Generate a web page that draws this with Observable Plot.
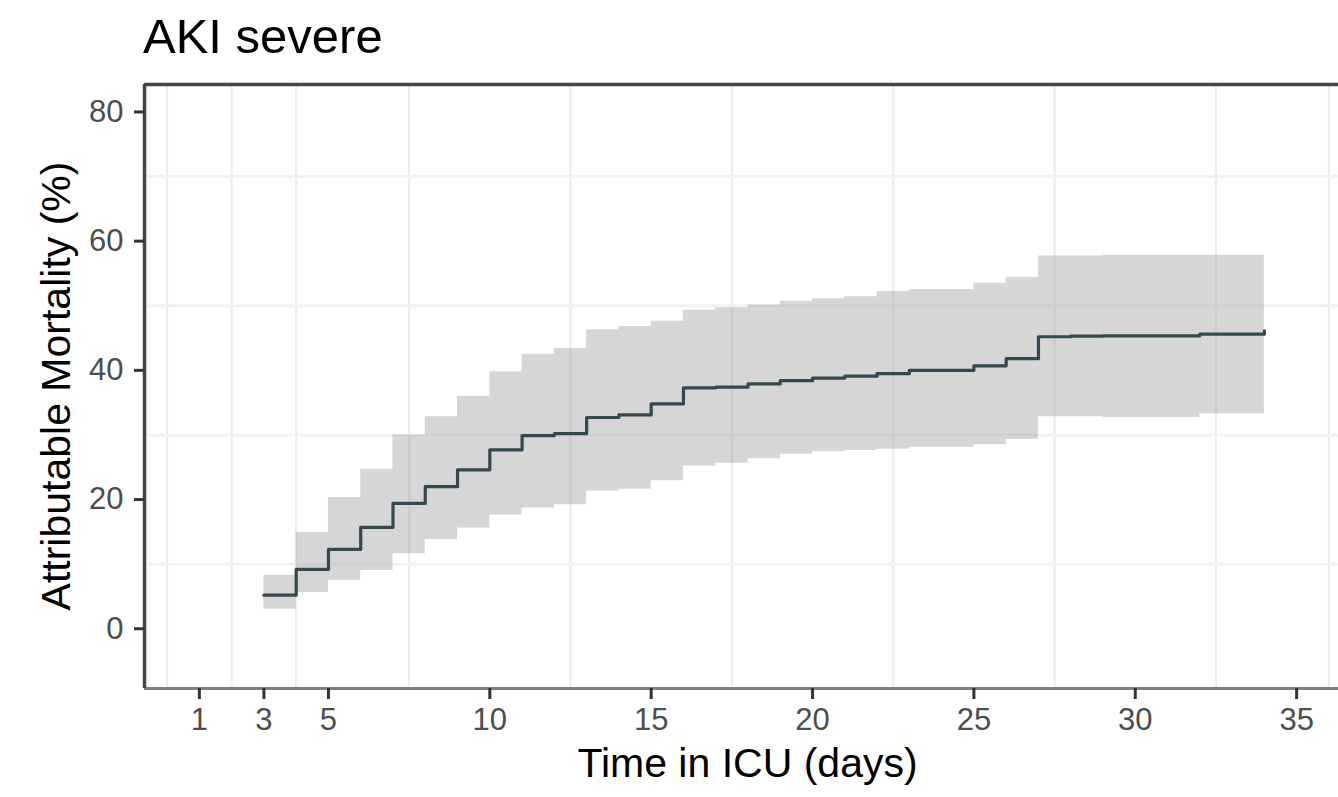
<!DOCTYPE html>
<html>
<head>
<meta charset="utf-8">
<script src="https://cdn.jsdelivr.net/npm/d3@7"></script>
<script src="https://cdn.jsdelivr.net/npm/@observablehq/plot@0.6"></script>
<style>
  html, body { margin: 0; padding: 0; background: #fff; overflow: hidden; }
  #wrap { position: relative; width: 1338px; height: 797px; overflow: hidden; }
</style>
</head>
<body>
<div id="wrap"></div>
<script>
// ---- data ----
const days  = [3, 4, 5, 6, 7, 8, 9, 10, 11, 12, 13, 14, 15, 16, 17, 18, 19, 20, 21, 22, 23, 24, 25, 26, 27, 28, 29, 30, 31, 32, 33, 34];
const est   = [5.2, 9.2, 12.3, 15.7, 19.4, 22.0, 24.6, 27.7, 29.9, 30.2, 32.7, 33.1, 34.8, 37.3, 37.4, 37.9, 38.4, 38.8, 39.1, 39.5, 40.0, 40.0, 40.7, 41.8, 45.2, 45.3, 45.35, 45.35, 45.35, 45.6, 45.6, 46.1];
const lower = [3.0, 5.6, 7.5, 9.0, 11.6, 13.8, 15.6, 17.6, 18.7, 19.2, 21.3, 21.6, 22.9, 25.2, 25.6, 26.3, 27.0, 27.4, 27.6, 27.8, 28.1, 28.1, 28.5, 29.3, 32.8, 32.8, 32.7, 32.7, 32.7, 33.3, 33.3, 33.3];
const upper = [8.3, 14.9, 20.3, 24.7, 30.0, 32.8, 36.0, 39.8, 42.5, 43.4, 46.3, 46.8, 47.6, 49.3, 49.7, 50.1, 50.7, 51.1, 51.4, 52.2, 52.5, 52.5, 53.5, 54.4, 57.7, 57.7, 57.8, 57.8, 57.8, 57.8, 57.8, 57.8];
const xTicks = [1, 3, 5, 10, 15, 20, 25, 30, 35];
const yTicks = [0, 20, 40, 60, 80];
const xGrid = [0, 2, 4, 7.5, 12.5, 17.5, 22.5, 27.5, 32.5, 36];
const yGrid = [10, 30, 50, 70];
const xDomain = [-0.7, 36.7];
const yDomain = [-9.25, 84.25];
const title = "AKI severe";
const xLabel = "Time in ICU (days)";
const yLabel = "Attributable Mortality (%)";

const data = days.map((d, i) => ({day: d, est: est[i], lo: lower[i], hi: upper[i]}));

const W = 1360, H = 797;
const mL = 144, mR = 9, mT = 84, mB = 109;

const chart = Plot.plot({
  width: W, height: H,
  marginLeft: mL, marginRight: mR, marginTop: mT, marginBottom: mB,
  x: {domain: xDomain},
  y: {domain: yDomain},
  style: {maxWidth: "none", fontFamily: "'Liberation Sans', Arial, sans-serif", background: "#fff"},
  marks: [
    Plot.ruleX(xGrid, {stroke: "#ececec", strokeWidth: 2.2}),
    Plot.ruleY(yGrid, {stroke: "#f2f2f2", strokeWidth: 3}),
    Plot.areaY(data, {x: "day", y1: "lo", y2: "hi", curve: "step-after", fill: "#999999", fillOpacity: 0.4}),
    Plot.line(data, {x: "day", y: "est", curve: "step-after", stroke: "#34494f", strokeWidth: 3.2}),
    Plot.ruleY([yDomain[1]], {stroke: "#444444", strokeWidth: 3.5}),
    Plot.ruleY([yDomain[0]], {stroke: "#7f7f7f", strokeWidth: 3}),
    Plot.ruleX([xDomain[0]], {stroke: "#444444", strokeWidth: 3.5}),
    Plot.axisX(xTicks, {tickSize: 11, tickPadding: 8, fontSize: 31, stroke: "#333333", strokeWidth: 3, fill: "#4d4d4d", label: null}),
    Plot.axisY(yTicks, {tickSize: 10, tickPadding: 11, fontSize: 31, stroke: "#333333", strokeWidth: 3, fill: "#4d4d4d", label: null})
  ]
});

const svg = d3.select(chart);
svg.append("text")
  .attr("x", 143).attr("y", 53)
  .attr("text-anchor", "start")
  .attr("font-size", 49).attr("fill", "#000")
  .attr("font-family", "'Liberation Sans', Arial, sans-serif")
  .text(title);
svg.append("text")
  .attr("x", (mL + (W - mR)) / 2).attr("y", 777)
  .attr("text-anchor", "middle")
  .attr("font-size", 41).attr("fill", "#000")
  .attr("font-family", "'Liberation Sans', Arial, sans-serif")
  .text(xLabel);
svg.append("text")
  .attr("transform", `translate(70,${(mT + (H - mB)) / 2}) rotate(-90)`)
  .attr("text-anchor", "middle")
  .attr("font-size", 41).attr("fill", "#000")
  .attr("font-family", "'Liberation Sans', Arial, sans-serif")
  .text(yLabel);

document.getElementById("wrap").appendChild(chart);
</script>
</body>
</html>
